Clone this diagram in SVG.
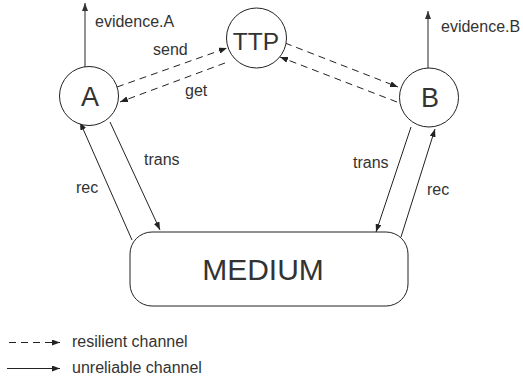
<svg xmlns="http://www.w3.org/2000/svg" width="523" height="379" viewBox="0 0 523 379">
  <style>
    .node { fill: #ffffff; stroke: #222222; stroke-width: 1; }
    .lbl { font-family: "Liberation Sans", Arial, sans-serif; fill: #333333; }
    .small { font-size: 16px; }
    .solid { stroke: #222222; stroke-width: 1; fill: none; marker-end: url(#head); }
    .dash { stroke: #222222; stroke-width: 1; fill: none; stroke-dasharray: 7 5; marker-end: url(#head); }
    .evid { stroke: #777777; stroke-width: 1.6; fill: none; marker-end: url(#headGray); }
  </style>
  <defs>
    <marker id="head" markerUnits="userSpaceOnUse" markerWidth="9" markerHeight="6" refX="8" refY="3" orient="auto">
      <path d="M0,0 L8,3 L0,6 z" fill="#222222"/>
    </marker>
    <marker id="headGray" markerUnits="userSpaceOnUse" markerWidth="9" markerHeight="6" refX="8" refY="3" orient="auto">
      <path d="M0,0 L8,3 L0,6 z" fill="#333333"/>
    </marker>
  </defs>

  <rect width="523" height="379" fill="#ffffff"/>

  <g id="connectors">
    <!-- outputs of the end parties -->
    <line class="evid" x1="85" y1="67" x2="85" y2="3"/>
    <line class="evid" x1="428" y1="68" x2="428" y2="11"/>
    <!-- resilient channels to and from the trusted third party -->
    <line class="dash" x1="117" y1="87" x2="227" y2="48"/>
    <line class="dash" x1="225" y1="63" x2="120" y2="102"/>
    <line class="dash" x1="285" y1="43" x2="398" y2="87"/>
    <line class="dash" x1="397" y1="102" x2="280" y2="57"/>
    <!-- unreliable channels through the medium -->
    <line class="solid" x1="132" y1="240" x2="80" y2="122"/>
    <line class="solid" x1="110" y1="122" x2="160" y2="230"/>
    <line class="solid" x1="411" y1="127" x2="376" y2="232"/>
    <line class="solid" x1="401" y1="237" x2="435" y2="129"/>
  </g>

  <g id="labels" class="lbl small">
    <text x="95" y="27">evidence.A</text>
    <text x="441" y="32">evidence.B</text>
    <text x="153" y="55">send</text>
    <text x="185" y="96">get</text>
    <text x="144" y="165">trans</text>
    <text x="76" y="193">rec</text>
    <text x="353" y="168">trans</text>
    <text x="427" y="195">rec</text>
  </g>

  <g id="node-A">
    <circle class="node" cx="89" cy="96" r="29.5"/>
    <text class="lbl" x="90" y="106" font-size="27" text-anchor="middle">A</text>
  </g>

  <g id="node-TTP">
    <circle class="node" cx="256.5" cy="38" r="30"/>
    <text class="lbl" x="256" y="49.5" font-size="24.5" text-anchor="middle">TTP</text>
  </g>

  <g id="node-B">
    <circle class="node" cx="429" cy="97.5" r="29.5"/>
    <text class="lbl" x="430" y="107" font-size="27" text-anchor="middle">B</text>
  </g>

  <g id="node-MEDIUM">
    <rect class="node" x="130" y="232" width="278" height="74" rx="22" ry="22"/>
    <text class="lbl" x="263" y="280" font-size="30" text-anchor="middle">MEDIUM</text>
  </g>

  <g id="legend">
    <line class="dash" x1="9" y1="342.5" x2="60" y2="342.5" stroke-dasharray="6 5"/>
    <text class="lbl small" x="72" y="347">resilient channel</text>
    <line class="solid" x1="7" y1="368.5" x2="60" y2="368.5"/>
    <text class="lbl small" x="72" y="373">unreliable channel</text>
  </g>
</svg>
